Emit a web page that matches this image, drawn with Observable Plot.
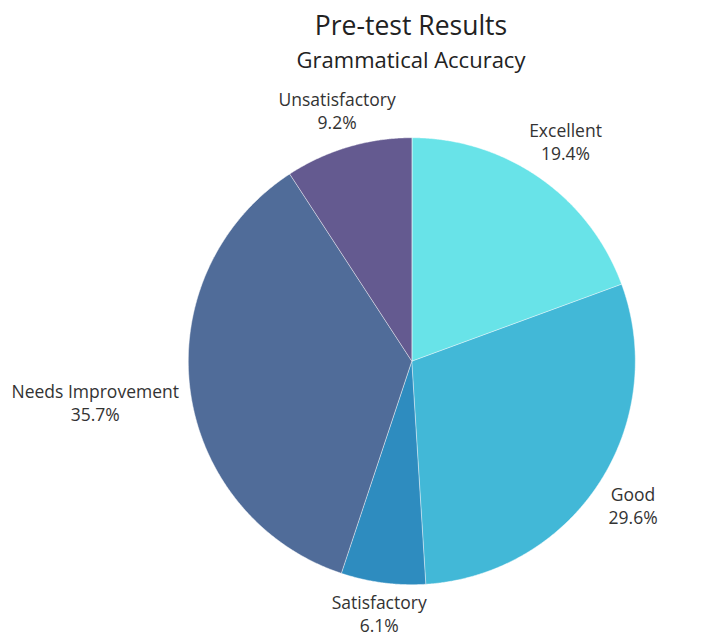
<!DOCTYPE html>
<html>
<head>
<meta charset="utf-8">
<script src="https://cdn.jsdelivr.net/npm/d3@7"></script>
<script src="https://cdn.jsdelivr.net/npm/@observablehq/plot@0.6"></script>
<style>
  html, body { margin: 0; padding: 0; background: #fff; }
  body { width: 714px; height: 635px; overflow: hidden; font-family: "Open Sans", sans-serif; }
  #header { position: relative; height: 80px; }
  #title { position: absolute; left: 0; width: 822px; top: 12px; text-align: center; font-size: 26.5px; line-height: 1; color: #222; white-space: nowrap; }
  #subtitle { position: absolute; left: 0; width: 822px; top: 48px; text-align: center; font-size: 22px; line-height: 1; color: #222; white-space: nowrap; }
</style>
</head>
<body>
<div id="header">
  <div id="title">Pre-test Results</div>
  <div id="subtitle">Grammatical Accuracy</div>
</div>
<div id="chart"></div>
<script>
const categories = ["Excellent", "Good", "Satisfactory", "Needs Improvement", "Unsatisfactory"];
const values = [19.4, 29.6, 6.1, 35.7, 9.2];
const valueLabels = ["19.4%", "29.6%", "6.1%", "35.7%", "9.2%"];
const colors = ["#68E3E8", "#42B8D7", "#2E8CBF", "#506C99", "#645A90"];

const W = 714, H = 555;
const cx = 411.3, cy = 280.7, R = 223.5;
const labelFont = 17.5;
const lineH = 1.31;
const labelGap = 234; // labels' boxes touch this circle

const arcs = d3.pie().sort(null).value(d => d)(values);

// slice polygons in pixel-unit data space (x right, y down), centred on the pie centre
const slices = [];
arcs.forEach((a, i) => {
  const n = Math.max(2, Math.ceil((a.endAngle - a.startAngle) / 0.005));
  slices.push({cat: categories[i], x: 0, y: 0});
  for (let k = 0; k <= n; ++k) {
    const t = a.startAngle + (a.endAngle - a.startAngle) * k / n;
    slices.push({cat: categories[i], x: Math.sin(t) * R, y: -Math.cos(t) * R});
  }
});

const ctx = document.createElement("canvas").getContext("2d");
ctx.font = `${labelFont}px "Open Sans"`;
const labels = arcs.map((a, i) => {
  const m = (a.startAngle + a.endAngle) / 2;
  const s = Math.sin(m), c = -Math.cos(m);
  const hw = Math.max(ctx.measureText(categories[i]).width, ctx.measureText(valueLabels[i]).width) / 2;
  const hh = (labelFont * lineH + labelFont * 0.714) / 2;
  // push the label box outward along the mid-angle until its nearest point reaches labelGap
  let lo = 0, hi = 600;
  for (let k = 0; k < 60; ++k) {
    const d = (lo + hi) / 2;
    const nx = Math.max(Math.abs(d * s) - hw, 0), ny = Math.max(Math.abs(d * c) - hh, 0);
    if (Math.hypot(nx, ny) < labelGap) lo = d; else hi = d;
  }
  const d = (lo + hi) / 2;
  return {text: categories[i] + "\n" + valueLabels[i], x: d * s, y: d * c};
});

const plot = Plot.plot({
  width: W,
  height: H,
  margin: 0,
  x: {domain: [-cx, W - cx], range: [0, W], axis: null},
  y: {domain: [-cy, H - cy], range: [0, H], axis: null},
  color: {domain: categories, range: colors},
  style: {fontFamily: "Open Sans", background: "#fff"},
  marks: [
    Plot.line(slices, {x: "x", y: "y", z: "cat", fill: "cat", stroke: "#ffffff", strokeWidth: 0.8, strokeOpacity: 0.6, curve: "linear-closed"}),
    Plot.text(labels, {x: "x", y: "y", text: "text", fontSize: labelFont, lineHeight: lineH, lineAnchor: "middle", textAnchor: "middle", fill: "#333"})
  ]
});
document.getElementById("chart").appendChild(plot);
</script>
</body>
</html>
